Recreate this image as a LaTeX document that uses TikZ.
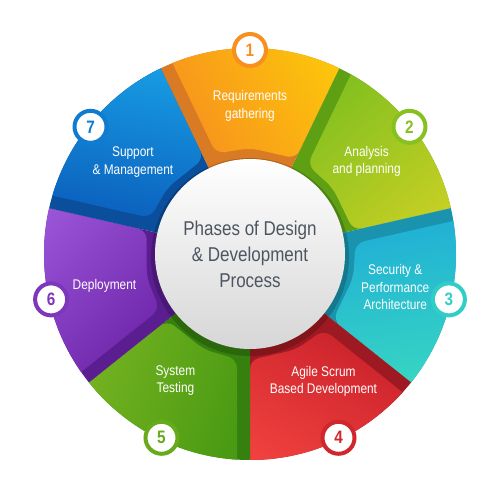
\documentclass[tikz,border=0pt]{standalone}
\usepackage{fontspec}
\setmainfont{Liberation Sans}[FakeStretch=0.85]
\usetikzlibrary{positioning}

\definecolor{orangeA}{HTML}{FDC80A}
\definecolor{orangeB}{HTML}{F7901E}
\definecolor{orangeD}{HTML}{D97A25}
\definecolor{limeA}{HTML}{7BBE1F}
\definecolor{limeB}{HTML}{C9D024}
\definecolor{limeD}{HTML}{5E9F14}
\definecolor{tealA}{HTML}{1FAED6}
\definecolor{tealB}{HTML}{3ADBC0}
\definecolor{tealD}{HTML}{1A94AE}
\definecolor{redA}{HTML}{C8202A}
\definecolor{redB}{HTML}{F2433F}
\definecolor{redD}{HTML}{9E1A22}
\definecolor{grassA}{HTML}{7AB622}
\definecolor{grassB}{HTML}{4A9A13}
\definecolor{grassD}{HTML}{35800F}
\definecolor{violetA}{HTML}{9B55D8}
\definecolor{violetB}{HTML}{6B22A6}
\definecolor{violetD}{HTML}{5A1E90}
\definecolor{blueA}{HTML}{1AA8EA}
\definecolor{blueB}{HTML}{0B5FBD}
\definecolor{blueD}{HTML}{0A4E9C}
\definecolor{titlegray}{HTML}{4D5561}

% one piece of the wheel: mid angle, dark colour, face colours, shading angle
\newcommand{\wheelpart}[5]{%
  \fill[#2] (0,0) -- ({#1-25.714}:260) -- (#1:260) -- ({#1+25.714}:260) -- cycle;
  \shade[top color=#3, bottom color=#4, shading angle=#5, rounded corners=9]
    ({#1-25.714}:106) -- ({#1-25.714}:250) -- ({#1+25.714-asin(13/250)}:250)
    -- ({#1+25.714-asin(13/106)}:106) -- (#1:106) -- cycle;
}

\begin{document}
\begin{tikzpicture}[x=1pt,y=1pt,
    phase/.style={text=white, align=center, font=\fontsize{14}{17.5}\selectfont},
    numdot/.style={circle, fill=white, draw=#1, line width=4, minimum size=32,
      inner sep=0, text=#1, font=\fontsize{18}{18}\selectfont\bfseries},
    hub/.style={circle, minimum size=190, top color=white, bottom color=black!16,
      text=titlegray, align=center, font=\fontsize{20}{26}\selectfont}]
  \useasboundingbox (-250,-246) rectangle (250,254);
  \fill[white] (-250,-246) rectangle (250,254);

  \begin{scope}
    \clip (0,0) circle[radius=206];
    \wheelpart{90}{orangeD}{orangeA}{orangeB}{-60}
    \wheelpart{38.571}{limeD}{limeA}{limeB}{40}
    \wheelpart{-12.857}{tealD}{tealA}{tealB}{10}
    \wheelpart{-64.286}{redD}{redA}{redB}{-30}
    \wheelpart{-115.714}{grassD}{grassA}{grassB}{70}
    \wheelpart{192.857}{violetD}{violetA}{violetB}{45}
    \wheelpart{141.429}{blueD}{blueA}{blueB}{-10}
  \end{scope}

  \fill[black, opacity=0.18] (0,-3) circle[radius=99];
  \node[hub] (title) at (0,0) {Phases of Design\\\& Development\\Process};

  \node[phase] (req) at (90:148) {Requirements\\gathering};
  \node[phase] (ana) at (38.5:149) {Analysis\\and planning};
  \node[phase] (sec) at (-12.8:149) {Security \&\\Performance\\Architecture};
  \node[phase] (agile) at (-60:147) {Agile Scrum\\Based Development};
  \node[phase] (test) at (-120.5:147) {System\\Testing};
  \node[phase] (deploy) at (192.4:149) {Deployment};
  \node[phase] (support) at (141.8:149) {Support\\\& Management};

  \node[numdot=orangeB] (n1) at (90:204) {1};
  \node[numdot=limeA!85!limeB] (n2) at (38.571:204) {2};
  \node[numdot=tealB!70!tealA] (n3) at (-12.857:204) {3};
  \node[numdot=redA!80!redB] (n4) at (-64.286:204) {4};
  \node[numdot=grassA!60!grassB] (n5) at (-115.714:204) {5};
  \node[numdot=violetA!40!violetB] (n6) at (192.857:204) {6};
  \node[numdot=blueA!40!blueB] (n7) at (141.429:204) {7};
\end{tikzpicture}
\end{document}
